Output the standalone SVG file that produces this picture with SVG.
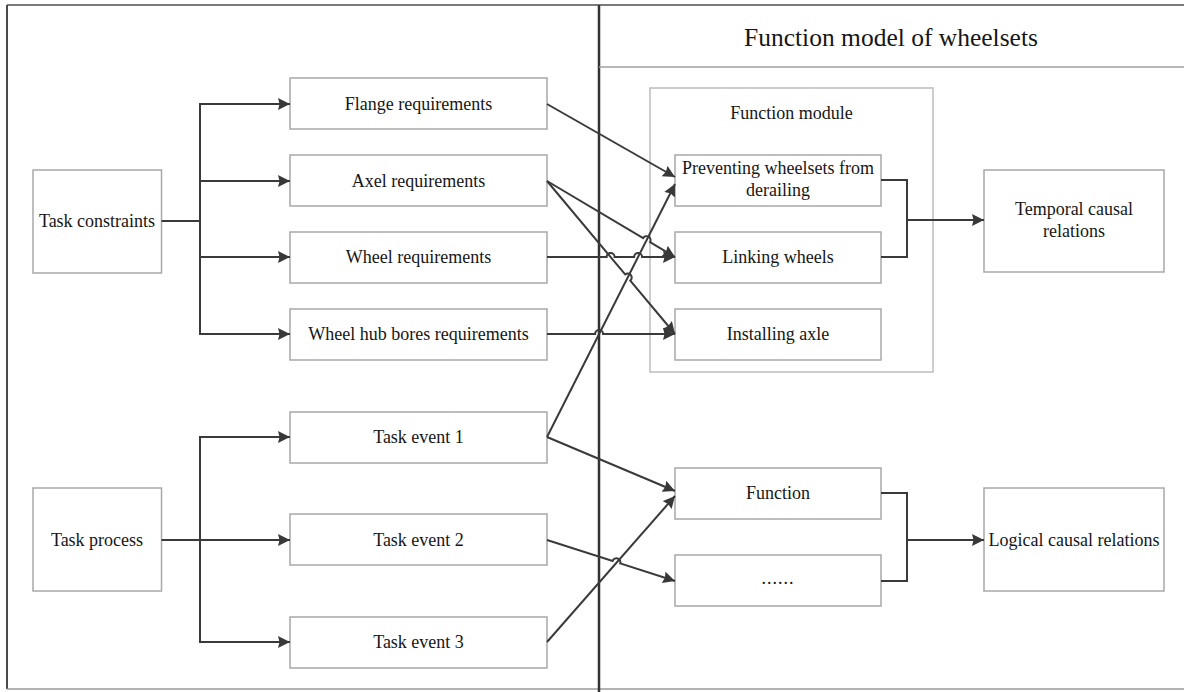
<svg xmlns="http://www.w3.org/2000/svg" width="1184" height="692" viewBox="0 0 1184 692">
  <defs>
    <marker id="arrow" markerUnits="userSpaceOnUse" markerWidth="14" markerHeight="14" refX="12" refY="6" orient="auto">
      <path d="M0,0 L12,6 L0,12 L1.5,6 Z" fill="#383838"/>
    </marker>
    <style>
      .box { fill: #ffffff; stroke: #a8a8a8; stroke-width: 1.5; }
      .module { fill: none; stroke: #bdbdbd; stroke-width: 1.5; }
      .lbl { font-family: "Liberation Serif", "Times New Roman", serif; font-size: 18px; fill: #161616; text-anchor: middle; }
      .title { font-family: "Liberation Serif", "Times New Roman", serif; font-size: 25.5px; fill: #161616; text-anchor: middle; }
      .wire { fill: none; stroke: #3a3a3a; stroke-width: 2; }
      .arrowed { marker-end: url(#arrow); }
    </style>
  </defs>

  <rect width="1184" height="692" fill="#ffffff"/>

  <!-- outer frame, panel divider and title rule -->
  <g id="frame">
    <line x1="7" y1="5" x2="1184" y2="5" stroke="#7a7a7a" stroke-width="2"/>
    <line x1="7" y1="5" x2="7" y2="689" stroke="#4a4a4a" stroke-width="2"/>
    <line x1="7" y1="689" x2="1184" y2="689" stroke="#9a9a9a" stroke-width="1.5"/>
    <line x1="599" y1="5" x2="599" y2="692" stroke="#333333" stroke-width="2.5"/>
    <line x1="599" y1="67" x2="1184" y2="67" stroke="#a0a0a0" stroke-width="1.5"/>
    <text class="title" x="891" y="46">Function model of wheelsets</text>
  </g>

  <!-- function module container -->
  <g id="function-module">
    <rect class="module" x="650" y="88" width="283" height="284"/>
    <text class="lbl" x="791.5" y="119">Function module</text>
  </g>

  <!-- left column -->
  <g id="task-constraints">
    <rect class="box" x="33" y="170" width="128.5" height="103"/>
    <text class="lbl" x="97" y="227">Task constraints</text>
  </g>
  <g id="task-process">
    <rect class="box" x="33" y="488" width="128.5" height="103"/>
    <text class="lbl" x="97" y="546">Task process</text>
  </g>

  <!-- middle column -->
  <g id="flange-requirements">
    <rect class="box" x="290" y="78" width="257" height="51"/>
    <text class="lbl" x="418.5" y="110">Flange requirements</text>
  </g>
  <g id="axel-requirements">
    <rect class="box" x="290" y="155" width="257" height="51"/>
    <text class="lbl" x="418.5" y="187">Axel requirements</text>
  </g>
  <g id="wheel-requirements">
    <rect class="box" x="290" y="232" width="257" height="51"/>
    <text class="lbl" x="418.5" y="263">Wheel requirements</text>
  </g>
  <g id="wheel-hub-bores-requirements">
    <rect class="box" x="290" y="309" width="257" height="51"/>
    <text class="lbl" x="418.5" y="340">Wheel hub bores requirements</text>
  </g>
  <g id="task-event-1">
    <rect class="box" x="290" y="412" width="257" height="51"/>
    <text class="lbl" x="418.5" y="443">Task event 1</text>
  </g>
  <g id="task-event-2">
    <rect class="box" x="290" y="514" width="257" height="51"/>
    <text class="lbl" x="418.5" y="546">Task event 2</text>
  </g>
  <g id="task-event-3">
    <rect class="box" x="290" y="617" width="257" height="51"/>
    <text class="lbl" x="418.5" y="648">Task event 3</text>
  </g>

  <!-- function column -->
  <g id="preventing-derailing">
    <rect class="box" x="675" y="155" width="206" height="51"/>
    <text class="lbl" x="778" y="174">Preventing wheelsets from</text>
    <text class="lbl" x="778" y="196">derailing</text>
  </g>
  <g id="linking-wheels">
    <rect class="box" x="675" y="232" width="206" height="51"/>
    <text class="lbl" x="778" y="263">Linking wheels</text>
  </g>
  <g id="installing-axle">
    <rect class="box" x="675" y="309" width="206" height="51"/>
    <text class="lbl" x="778" y="340">Installing axle</text>
  </g>
  <g id="function">
    <rect class="box" x="675" y="468" width="206" height="51"/>
    <text class="lbl" x="778" y="499">Function</text>
  </g>
  <g id="more-functions">
    <rect class="box" x="675" y="555" width="206" height="51"/>
    <text class="lbl" x="778" y="584" letter-spacing="1">......</text>
  </g>

  <!-- relation column -->
  <g id="temporal-causal-relations">
    <rect class="box" x="984" y="170" width="180" height="102"/>
    <text class="lbl" x="1074" y="215">Temporal causal</text>
    <text class="lbl" x="1074" y="237">relations</text>
  </g>
  <g id="logical-causal-relations">
    <rect class="box" x="984" y="488" width="180" height="103"/>
    <text class="lbl" x="1074" y="546">Logical causal relations</text>
  </g>

  <!-- connectors; small arcs hop over crossed wires -->
  <g id="connectors">
    <!-- constraints fan-out -->
    <path class="wire" d="M161.5,221 H200"/>
    <path class="wire arrowed" d="M200,221 V104 H290"/>
    <path class="wire arrowed" d="M200,181 H290"/>
    <path class="wire arrowed" d="M200,257 H290"/>
    <path class="wire arrowed" d="M200,221 V334 H290"/>

    <!-- process fan-out -->
    <path class="wire" d="M161.5,540 H200"/>
    <path class="wire arrowed" d="M200,540 V437 H290"/>
    <path class="wire arrowed" d="M200,540 H290"/>
    <path class="wire arrowed" d="M200,540 V642 H290"/>

    <!-- requirements to functions -->
    <path class="wire arrowed" d="M547,104 L675,177"/>
    <path class="wire arrowed" d="M547,181 L643.16,238.06 A4,4 0 0 1 650.04,242.14 L675,257"/>
    <path class="wire arrowed" d="M547,181 L625.13,274.43 A4,4 0 0 1 630.27,280.57 L675,334"/>
    <path class="wire arrowed" d="M547,257 H606.6 A4,4 0 0 1 614.6,257 H634.1 A4,4 0 0 1 642.1,257 H675"/>
    <path class="wire arrowed" d="M547,334 H595.1 A4,4 0 0 1 603.1,334 H675"/>

    <!-- task events to functions -->
    <path class="wire arrowed" d="M547,437 L675,184"/>
    <path class="wire arrowed" d="M547,437 L675,491"/>
    <path class="wire arrowed" d="M547,540 L612.64,561.03 A4,4 0 0 1 620.26,563.47 L675,581"/>
    <path class="wire arrowed" d="M547,642 L675,496"/>

    <!-- functions to causal relations -->
    <path class="wire" d="M881,180 H907 V257 H881" stroke-width="2.5"/>
    <path class="wire arrowed" d="M907,220 H984"/>
    <path class="wire" d="M881,493 H907 V581 H881" stroke-width="2.5"/>
    <path class="wire arrowed" d="M907,540 H984"/>
  </g>
</svg>
